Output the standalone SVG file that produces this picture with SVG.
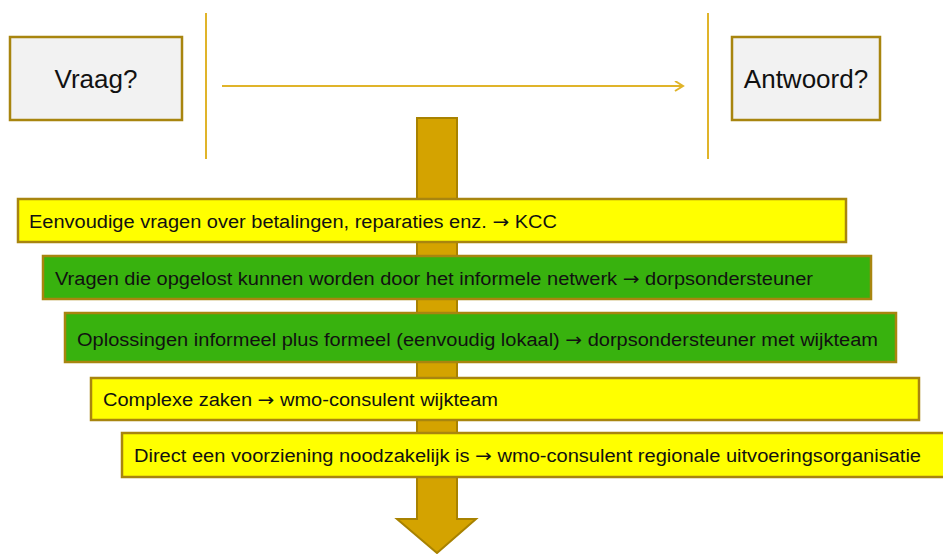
<svg xmlns="http://www.w3.org/2000/svg" width="943" height="554" viewBox="0 0 943 554">
<style>
.box{fill:#F2F2F2;stroke:#A8850F;stroke-width:2.5}
.bar{stroke:#A8850F;stroke-width:2.5}
.yel{fill:#FFFF00}
.grn{fill:#38B20E}
.big{font-family:"Liberation Sans",Arial,sans-serif;font-size:26px;fill:#111;text-anchor:middle}
.txt{font-family:"Liberation Sans",Arial,sans-serif;font-size:18px;fill:#111}
.arr{font-family:"DejaVu Sans",sans-serif}
.div{stroke:#E0B42A;stroke-width:2;fill:none}
</style>
<defs>
<marker id="chev" markerWidth="12" markerHeight="12" refX="9" refY="5" orient="auto" markerUnits="userSpaceOnUse">
<path d="M1,0 L9,5 L1,10" fill="none" stroke="#E0B42A" stroke-width="2"/>
</marker>
</defs>
<rect width="943" height="554" fill="#FFFFFF"/>
<g id="dividers">
<line class="div" x1="206" y1="13" x2="206" y2="159"/>
<line class="div" x1="708" y1="13" x2="708" y2="159"/>
</g>
<g id="connectors">
<line class="div" x1="222" y1="86" x2="683" y2="86" marker-end="url(#chev)"/>
</g>
<g id="flow-arrow">
<polygon points="417,118 457,118 457,519 476,519 437,553 397,519 417,519" fill="#D4A300" stroke="#A88200" stroke-width="2"/>
</g>
<g id="vraag">
<rect class="box" x="10" y="37" width="172" height="83"/>
<text class="big" x="96" y="88">Vraag?</text>
</g>
<g id="antwoord">
<rect class="box" x="732" y="37" width="148" height="83"/>
<text class="big" x="806" y="88">Antwoord?</text>
</g>
<g id="bar1">
<rect class="bar yel" x="18" y="199" width="828" height="43"/>
<text class="txt" x="29" y="228" textLength="528" lengthAdjust="spacingAndGlyphs">Eenvoudige vragen over betalingen, reparaties enz. <tspan class="arr">→</tspan> KCC</text>
</g>
<g id="bar2">
<rect class="bar grn" x="43" y="256" width="828" height="43"/>
<text class="txt" x="55" y="284.5" textLength="758" lengthAdjust="spacingAndGlyphs">Vragen die opgelost kunnen worden door het informele netwerk <tspan class="arr">→</tspan> dorpsondersteuner</text>
</g>
<g id="bar3">
<rect class="bar grn" x="65" y="313" width="831" height="49"/>
<text class="txt" x="77" y="345.5" textLength="801" lengthAdjust="spacingAndGlyphs">Oplossingen informeel plus formeel (eenvoudig lokaal) <tspan class="arr">→</tspan> dorpsondersteuner met wijkteam</text>
</g>
<g id="bar4">
<rect class="bar yel" x="91" y="378" width="828" height="42"/>
<text class="txt" x="103" y="406" textLength="395" lengthAdjust="spacingAndGlyphs">Complexe zaken <tspan class="arr">→</tspan> wmo-consulent wijkteam</text>
</g>
<g id="bar5">
<rect class="bar yel" x="122" y="433" width="825" height="44"/>
<text class="txt" x="134" y="462" textLength="787" lengthAdjust="spacingAndGlyphs">Direct een voorziening noodzakelijk is <tspan class="arr">→</tspan> wmo-consulent regionale uitvoeringsorganisatie</text>
</g>
</svg>
